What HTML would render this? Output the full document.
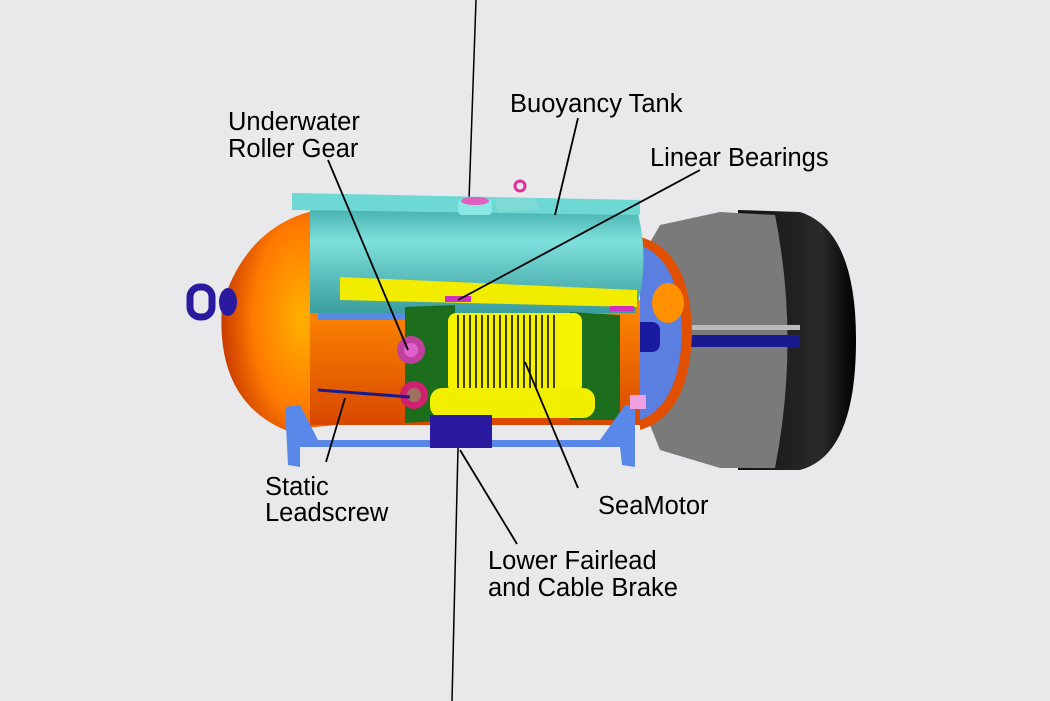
<!DOCTYPE html>
<html><head><meta charset="utf-8"><style>
html,body{margin:0;padding:0;background:#e9e9eb;}
svg{display:block}
text{font-family:"Liberation Sans",sans-serif;font-size:25.5px;fill:#000}
</style></head><body>
<svg width="1050" height="701" viewBox="0 0 1050 701" xmlns="http://www.w3.org/2000/svg">
<defs>
<radialGradient id="og" cx="0.7" cy="0.5" r="0.7"><stop offset="0" stop-color="#ffb000"/><stop offset="0.6" stop-color="#ff7a00"/><stop offset="1" stop-color="#c83a00"/></radialGradient>
<linearGradient id="cy" x1="0" y1="0" x2="0" y2="1"><stop offset="0" stop-color="#3ea8a8"/><stop offset="0.35" stop-color="#7ee0dc"/><stop offset="1" stop-color="#3a9c9c"/></linearGradient>
<linearGradient id="ob" x1="0" y1="0" x2="0" y2="1"><stop offset="0" stop-color="#ff8a00"/><stop offset="1" stop-color="#d84800"/></linearGradient>
<linearGradient id="bk" x1="0" y1="0" x2="1" y2="0"><stop offset="0" stop-color="#111"/><stop offset="0.7" stop-color="#2a2a2a"/><stop offset="1" stop-color="#000"/></linearGradient>
</defs>
<line x1="476" y1="0" x2="469" y2="200" stroke="#000" stroke-width="1.5"/>
<line x1="458" y1="448" x2="452" y2="701" stroke="#000" stroke-width="1.5"/>
<path d="M738 210 L800 212 Q856 230 856 340 Q856 455 800 470 L738 470 Z" fill="url(#bk)"/>
<path d="M660 225 L720 212 L775 215 Q800 340 775 468 L720 468 L660 450 L640 400 L640 260 Z" fill="#7a7a7a"/>
<rect x="690" y="335" width="110" height="12" fill="#1a1a90"/>
<rect x="690" y="325" width="110" height="5" fill="#bbb"/>
<path d="M640 237 Q690 250 692 332 Q690 415 640 430 Z" fill="#e05000"/>
<path d="M640 245 Q680 260 682 332 Q680 405 640 420 Z" fill="#5a7fe0"/>
<ellipse cx="668" cy="303" rx="16" ry="20" fill="#ff9000"/>
<rect x="630" y="322" width="30" height="30" rx="8" fill="#1a1aa0"/>
<path d="M336 207 Q250 215 222 305 Q215 400 285 430 L336 425 Z" fill="url(#og)"/>
<rect x="190" y="287" width="22" height="30" rx="10" fill="none" stroke="#2a1aa0" stroke-width="7"/>
<ellipse cx="228" cy="302" rx="9" ry="14" fill="#2a1aa0"/>
<rect x="310" y="300" width="330" height="125" fill="url(#ob)"/>
<rect x="318" y="310" width="90" height="10" fill="#5a8ae8"/>
<path d="M310 203 L635 203 Q652 258 635 313 L310 313 Z" fill="url(#cy)"/>
<path d="M292 193 L640 200 L640 215 L292 210 Z" fill="#6ed8d4"/>
<rect x="458" y="199" width="34" height="16" rx="4" fill="#8ae8e4"/>
<ellipse cx="475" cy="201" rx="14" ry="4" fill="#e060c0"/>
<path d="M495 198 L535 198 L540 210 L498 212 Z" fill="#7ddad6"/>
<circle cx="520" cy="186" r="5" fill="none" stroke="#e030a0" stroke-width="3"/>
<path d="M340 277 L637 290 L637 307 L340 300 Z" fill="#f2ec00"/>
<rect x="445" y="296" width="26" height="6" fill="#d030c0"/>
<rect x="610" y="306" width="24" height="5" fill="#d030c0"/>
<path d="M405 307 L455 305 L455 420 L405 423 Z" fill="#1c6e1c"/>
<path d="M570 312 L620 315 L620 420 L570 420 Z" fill="#1c6e1c"/>
<rect x="448" y="313" width="134" height="80" rx="8" fill="#f6f200"/>
<g stroke="#111" stroke-width="1.6" fill="none">
<path d="M458 315 v76 M464 315 v76 M470 315 v76 M476 315 v76 M482 315 v76 M488 315 v76 M494 315 v76 M500 315 v76 M506 315 v76 M512 315 v76 M518 315 v76 M524 315 v76 M530 315 v76 M536 315 v76 M542 315 v76 M548 315 v76 M554 315 v76"/>
</g>
<rect x="430" y="388" width="165" height="30" rx="12" fill="#f2ee00"/>
<circle cx="411" cy="350" r="14" fill="#c040a0"/><circle cx="411" cy="350" r="7" fill="#e060d0"/>
<circle cx="414" cy="395" r="14" fill="#d02070"/><circle cx="414" cy="395" r="7" fill="#a07060"/>
<line x1="318" y1="390" x2="410" y2="397" stroke="#1a1a90" stroke-width="3"/>
<path d="M285 407 L300 405 L318 440 L430 440 L430 447 L300 447 L300 467 L288 465 Z" fill="#5a88e8"/>
<path d="M490 440 L600 440 L625 405 L635 405 L635 467 L622 465 L620 447 L490 447 Z" fill="#5a88e8"/>
<rect x="430" y="415" width="62" height="33" fill="#2a1aa0"/>
<rect x="630" y="395" width="16" height="14" fill="#f0a0e0"/>
<g stroke="#000" stroke-width="1.8">
<line x1="578" y1="118" x2="555" y2="215"/>
<line x1="328" y1="160" x2="408" y2="350"/>
<line x1="700" y1="170" x2="458" y2="300"/>
<line x1="345" y1="398" x2="326" y2="462"/>
<line x1="525" y1="362" x2="578" y2="488"/>
<line x1="460" y1="450" x2="517" y2="544"/>
</g>
<text x="510" y="112">Buoyancy Tank</text>
<text x="228" y="130">Underwater</text>
<text x="228" y="157">Roller Gear</text>
<text x="650" y="166">Linear Bearings</text>
<text x="265" y="495">Static</text>
<text x="265" y="521">Leadscrew</text>
<text x="598" y="514">SeaMotor</text>
<text x="488" y="569">Lower Fairlead</text>
<text x="488" y="596">and Cable Brake</text>
</svg>
</body></html>
